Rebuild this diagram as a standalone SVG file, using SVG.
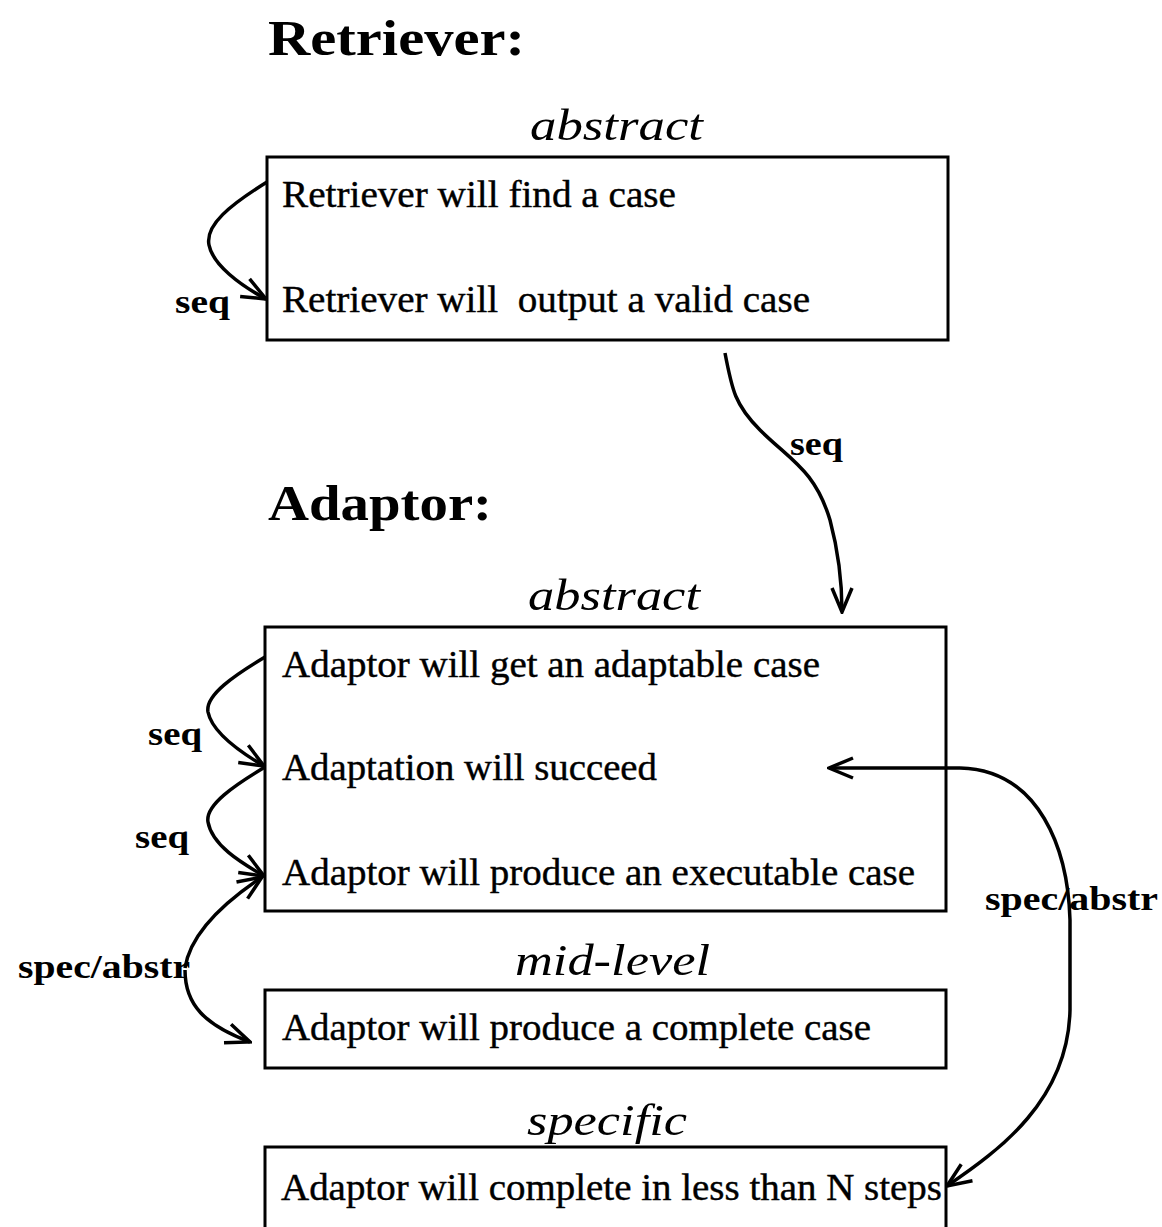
<svg xmlns="http://www.w3.org/2000/svg" width="1162" height="1227" viewBox="0 0 1162 1227">
<style>
.title{font-family:"Liberation Serif",serif;font-weight:bold;font-size:50px;fill:#000}
.lvl{font-family:"Liberation Serif",serif;font-style:italic;font-size:45px;fill:#000}
.t{font-family:"Liberation Serif",serif;font-size:37px;fill:#000;stroke:#000;stroke-width:0.4}
.lab{font-family:"Liberation Serif",serif;font-weight:bold;font-size:34px;fill:#000}
.box{fill:#fff;stroke:#000;stroke-width:3}
.c{fill:none;stroke:#000;stroke-width:3.5}
</style>
<defs>
<marker id="ah" viewBox="-26 -12 28 24" refX="0" refY="0" markerWidth="28" markerHeight="24" markerUnits="userSpaceOnUse" orient="auto">
<path d="M-24,-10 L0,0 L-24,10" fill="none" stroke="#000" stroke-width="3.5"/>
</marker>
</defs>
<rect width="1162" height="1227" fill="#fff"/>
<text class="title" x="268" y="55" textLength="257" lengthAdjust="spacingAndGlyphs">Retriever:</text>
<text class="title" x="268" y="520" textLength="224" lengthAdjust="spacingAndGlyphs">Adaptor:</text>
<g id="retriever">
<text class="lvl" x="530" y="140" textLength="173" lengthAdjust="spacingAndGlyphs">abstract</text>
<rect class="box" x="267" y="157" width="681" height="183"/>
<text class="t" x="282" y="207" textLength="394" lengthAdjust="spacingAndGlyphs">Retriever will find a case</text>
<text class="t" x="282" y="312" xml:space="preserve" textLength="528" lengthAdjust="spacingAndGlyphs">Retriever will  output a valid case</text>
</g>
<g id="adaptor-abstract">
<text class="lvl" x="528" y="610" textLength="172" lengthAdjust="spacingAndGlyphs">abstract</text>
<rect class="box" x="265" y="627" width="681" height="284"/>
<text class="t" x="282" y="677" textLength="538" lengthAdjust="spacingAndGlyphs">Adaptor will get an adaptable case</text>
<text class="t" x="282" y="780" textLength="375" lengthAdjust="spacingAndGlyphs">Adaptation will succeed</text>
<text class="t" x="282" y="885" textLength="633" lengthAdjust="spacingAndGlyphs">Adaptor will produce an executable case</text>
</g>
<g id="adaptor-mid">
<text class="lvl" x="515" y="975" textLength="195" lengthAdjust="spacingAndGlyphs">mid-level</text>
<rect class="box" x="265" y="990" width="681" height="78"/>
<text class="t" x="282" y="1040" textLength="589" lengthAdjust="spacingAndGlyphs">Adaptor will produce a complete case</text>
</g>
<g id="adaptor-specific">
<text class="lvl" x="527" y="1135" textLength="160" lengthAdjust="spacingAndGlyphs">specific</text>
<rect class="box" x="265" y="1147" width="681" height="90"/>
<text class="t" x="281" y="1200" textLength="661" lengthAdjust="spacingAndGlyphs">Adaptor will complete in less than N steps</text>
</g>
<g id="connectors">
<path class="c" marker-end="url(#ah)" d="M267,182 C230,205 205,225 209,245 C213,265 240,285 266,299"/>
<path class="c" marker-end="url(#ah)" d="M725,353 C732,390 735,405 760,430 C790,460 815,470 830,520 C838,550 842,580 842,612"/>
<path class="c" marker-end="url(#ah)" d="M265,657 C235,675 205,695 208,712 C212,732 240,752 264,766"/>
<path class="c" marker-end="url(#ah)" d="M265,767 C235,785 205,805 208,822 C212,845 240,862 264,876"/>
<path class="c" marker-end="url(#ah)" d="M185,968 C190,935 220,905 262,877"/>
<path class="c" marker-end="url(#ah)" d="M185,970 C185,1005 205,1025 250,1042"/>
<path class="c" marker-end="url(#ah)" d="M960,768 L829,768"/>
<path class="c" marker-end="url(#ah)" d="M960,768 C1040,770 1068,850 1070,920 L1070,1010 C1068,1100 1000,1150 947,1186"/>
<text class="lab" x="175" y="313" textLength="55" lengthAdjust="spacingAndGlyphs">seq</text>
<text class="lab" x="790" y="455" textLength="53" lengthAdjust="spacingAndGlyphs">seq</text>
<text class="lab" x="148" y="745" textLength="54" lengthAdjust="spacingAndGlyphs">seq</text>
<text class="lab" x="135" y="848" textLength="54" lengthAdjust="spacingAndGlyphs">seq</text>
<text class="lab" x="18" y="978" textLength="172" lengthAdjust="spacingAndGlyphs">spec/abstr</text>
<text class="lab" x="985" y="910" textLength="173" lengthAdjust="spacingAndGlyphs">spec/abstr</text>
</g>
</svg>
